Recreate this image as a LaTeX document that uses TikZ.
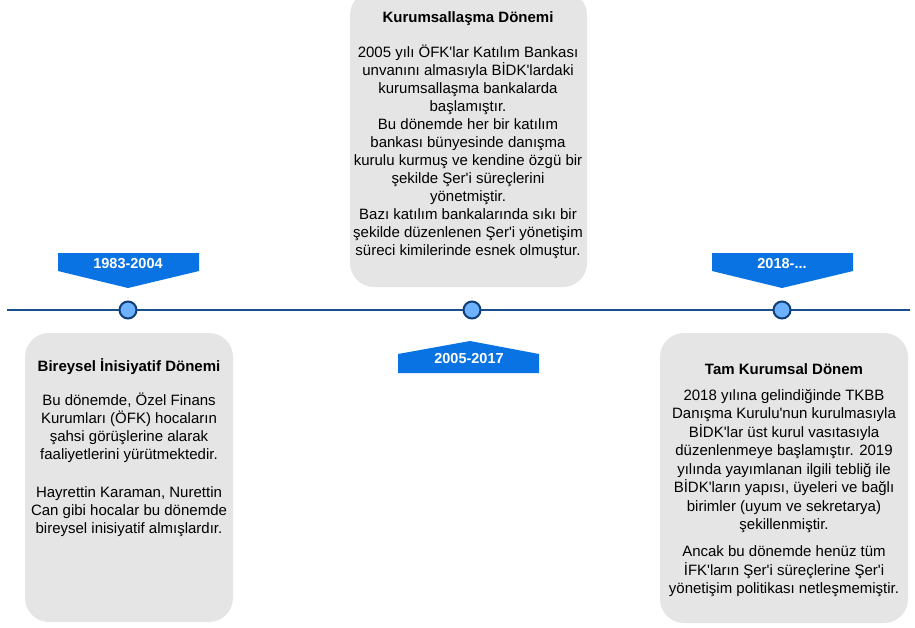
\documentclass[tikz,border=0pt]{standalone}
\usepackage{fontspec}
\setmainfont{Liberation Sans}[Ligatures=TeXOff]
\definecolor{linec}{RGB}{26,78,140}
\definecolor{dotfill}{RGB}{110,178,255}
\definecolor{dotline}{RGB}{16,62,120}
\definecolor{bannerc}{RGB}{10,115,228}
\definecolor{cardc}{RGB}{229,229,229}
\begin{document}
\begin{tikzpicture}[x=1pt,y=-1pt,
  card/.style={fill=cardc, draw=none, rounded corners=24pt, inner sep=0pt},
  dot/.style={circle, fill=dotfill, draw=dotline, line width=2pt, minimum size=17pt, inner sep=0pt},
  banner/.style={fill=bannerc, draw=none},
  bannertext/.style={text=white, font=\fontsize{14.5}{17}\selectfont\bfseries, inner sep=0pt},
  title/.style={font=\fontsize{15}{18}\selectfont\bfseries, inner sep=0pt},
  body/.style={font=\fontsize{15}{18}\selectfont, align=center, inner sep=0pt},
  bodyr/.style={font=\fontsize{15}{18.5}\selectfont, align=center, inner sep=0pt}]
\useasboundingbox (0,0) rectangle (915,627);

% cards
\node[card, minimum width=237pt, minimum height=296pt] (cmid) at (468.5,139) {};
\node[card, minimum width=208pt, minimum height=289pt] (cleft) at (129,477.5) {};
\node[card, minimum width=248pt, minimum height=290pt] (cright) at (784,478) {};

% timeline
\coordinate (tl) at (7,310);
\coordinate (tr) at (910,310);
\draw[linec, line width=2pt] (tl) -- (tr);
\node[dot] (d1) at (128,310) {};
\node[dot] (d2) at (472,310) {};
\node[dot] (d3) at (782,310) {};

% banners
\fill[banner] (58,253) -- (199,253) -- (199,271) -- (128,288) -- (58,271) -- cycle;
\node[bannertext] (y1) at (128,264) {1983-2004};
\fill[banner] (398,373) -- (539,373) -- (539,354) -- (470,341) -- (398,354) -- cycle;
\node[bannertext] (y2) at (469,359) {2005-2017};
\fill[banner] (712,253) -- (853,253) -- (853,271) -- (782,288) -- (712,271) -- cycle;
\node[bannertext] (y3) at (782,264) {2018-...};

% middle text
\node[title] (tmid) at (468,19) {Kurumsallaşma Dönemi};
\node[body] (bmid) at (468,152) {2005 yılı ÖFK'lar Katılım Bankası\\
unvanını almasıyla BİDK'lardaki\\
kurumsallaşma bankalarda\\
başlamıştır.\\
Bu dönemde her bir katılım\\
bankası bünyesinde danışma\\
kurulu kurmuş ve kendine özgü bir\\
şekilde Şer'i süreçlerini\\
yönetmiştir.\\
Bazı katılım bankalarında sıkı bir\\
şekilde düzenlenen Şer'i yönetişim\\
süreci kimilerinde esnek olmuştur.};

% left text
\node[title] (tleft) at (129,367) {Bireysel İnisiyatif Dönemi};
\node[body] (bleft) at (129,465) {Bu dönemde, Özel Finans\\
Kurumları (ÖFK) hocaların\\
şahsi görüşlerine alarak\\
faaliyetlerini yürütmektedir.\\[20pt]
Hayrettin Karaman, Nurettin\\
Can gibi hocalar bu dönemde\\
bireysel inisiyatif almışlardır.};

% right text
\node[title] (tright) at (784,369) {Tam Kurumsal Dönem};
\node[bodyr] (bright) at (784,493) {2018 yılına gelindiğinde TKBB\\
Danışma Kurulu'nun kurulmasıyla\\
BİDK'lar üst kurul vasıtasıyla\\
düzenlenmeye başlamıştır. 2019\\
yılında yayımlanan ilgili tebliğ ile\\
BİDK'ların yapısı, üyeleri ve bağlı\\
birimler (uyum ve sekretarya)\\
şekillenmiştir.\\[8.5pt]
Ancak bu dönemde henüz tüm\\
İFK'ların Şer'i süreçlerine Şer'i\\
yönetişim politikası netleşmemiştir.};
\end{tikzpicture}
\end{document}
